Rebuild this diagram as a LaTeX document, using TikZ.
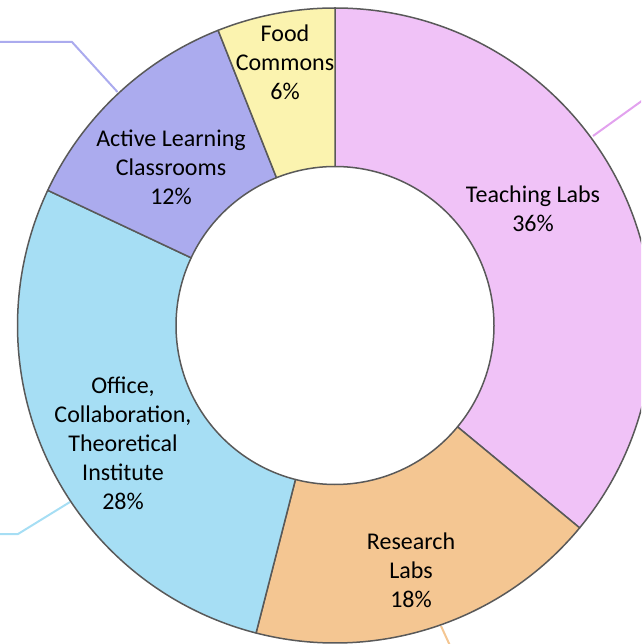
\documentclass[tikz,border=0pt]{standalone}
\usepackage{fontspec}
\setmainfont{Carlito}
\begin{document}
\begin{tikzpicture}[x=1pt,y=1pt,
  slice/.style={draw=bordergray,line width=1.5pt,line join=round},
  leader/.style={line width=2pt},
  lbl/.style={align=center,font=\fontsize{24}{29}\selectfont,inner sep=0pt}]
\definecolor{bordergray}{HTML}{595959}
\definecolor{cteach}{HTML}{F0C2F7}
\definecolor{cres}{HTML}{F4C692}
\definecolor{coff}{HTML}{A6DEF4}
\definecolor{cact}{HTML}{ABABEE}
\definecolor{cfood}{HTML}{FBF3AF}
\definecolor{lteach}{HTML}{E2A2EE}
\useasboundingbox (0,0) rectangle (641,-644);
\clip (0,0) rectangle (641,-644);
\coordinate (c) at (335,-325.5);
\def\Ro{317.5}
\def\Ri{159}
% leader lines
\coordinate (la1) at (117.5,-92);
\coordinate (la2) at (72,-42);
\coordinate (la3) at (-5,-42);
\draw[leader,cact] (la1) -- (la2) -- (la3);
\coordinate (lo1) at (70,-502);
\coordinate (lo2) at (18,-534);
\coordinate (lo3) at (-5,-534);
\draw[leader,coff] (lo1) -- (lo2) -- (lo3);
\coordinate (lt1) at (593,-136);
\coordinate (lt2) at (650,-95);
\draw[leader,lteach] (lt1) -- (lt2);
\coordinate (lr1) at (441,-626);
\coordinate (lr2) at (452,-650);
\draw[leader,cres] (lr1) -- (lr2);
% slices
\foreach \a/\b/\col in {90/-39.6/cteach, -39.6/-104.4/cres, -104.4/-205.2/coff, 154.8/111.6/cact, 111.6/90/cfood}{
  \draw[slice,fill=\col] ([shift={(c)}]\a:\Ro) arc[start angle=\a,end angle=\b,radius=\Ro]
    -- ([shift={(c)}]\b:\Ri) arc[start angle=\b,end angle=\a,radius=\Ri] -- cycle;
}
% labels
\node[lbl] (food) at (285,-62) {Food\\Commons\\6\%};
\node[lbl] (act) at (171,-167) {Active Learning\\Classrooms\\12\%};
\node[lbl] (teach) at (533,-208.5) {Teaching Labs\\36\%};
\node[lbl] (res) at (411,-570) {Research\\Labs\\18\%};
\node[lbl] (off) at (123,-443) {Office,\\Collaboration,\\Theoretical\\Institute\\28\%};
\end{tikzpicture}
\end{document}
